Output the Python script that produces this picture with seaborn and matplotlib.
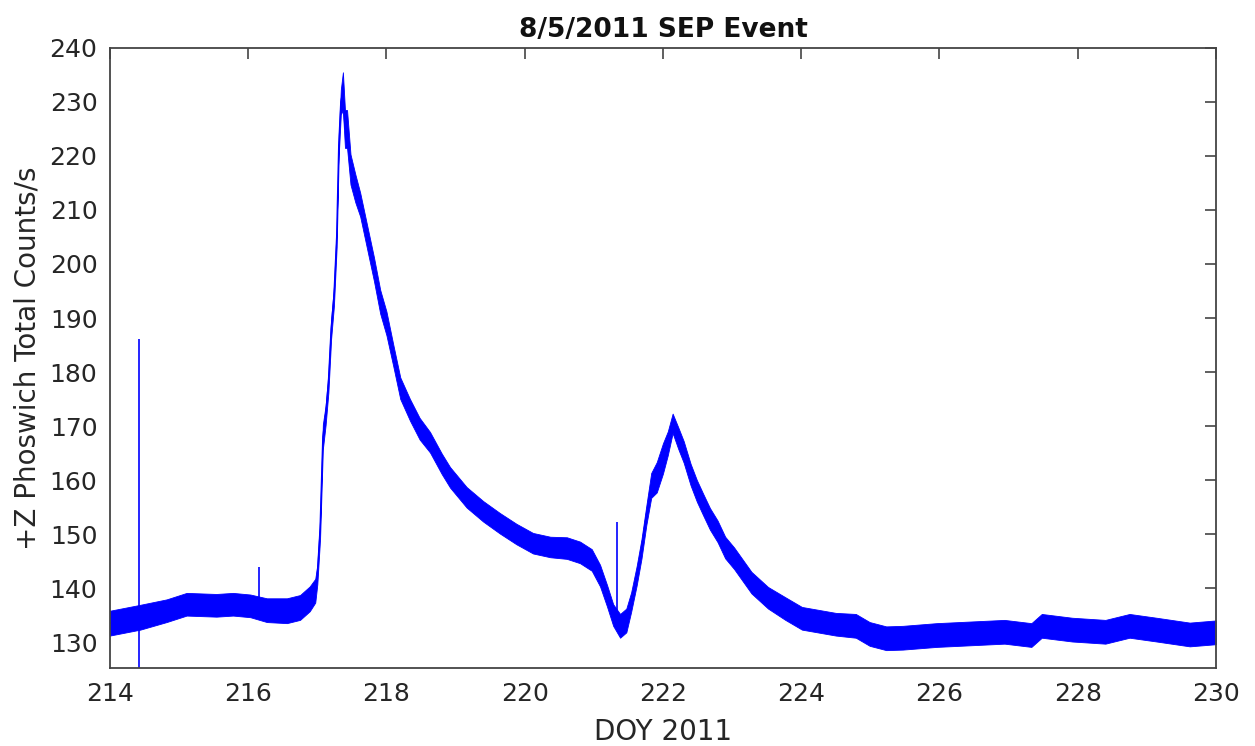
import numpy as np
import pandas as pd
import matplotlib
matplotlib.use("Agg")
import matplotlib.pyplot as plt
import seaborn as sns

# Day of year 2011 and smoothed count rate of the +Z phoswich detector
doy = [214.00, 214.20, 214.44, 214.82, 215.11, 215.54, 215.78, 216.03, 216.27,
       216.56, 216.75, 216.89, 216.97, 217.00, 217.04, 217.08, 217.12, 217.16,
       217.20, 217.24, 217.28, 217.31, 217.34, 217.37, 217.40, 217.43, 217.48,
       217.55, 217.62, 217.72, 217.82, 217.91, 218.00, 218.10, 218.20, 218.34,
       218.48, 218.63, 218.80, 218.92, 219.16, 219.40, 219.64, 219.88, 220.12,
       220.37, 220.61, 220.80, 220.97, 221.09, 221.19, 221.28, 221.38, 221.47,
       221.54, 221.62, 221.69, 221.76, 221.83, 221.91, 222.00, 222.07, 222.14,
       222.22, 222.30, 222.40, 222.49, 222.58, 222.68, 222.79, 222.90, 223.03,
       223.28, 223.52, 223.77, 224.01, 224.50, 224.79, 224.99, 225.23, 225.47,
       225.96, 226.45, 226.94, 227.33, 227.48, 227.92, 228.40, 228.75, 229.14,
       229.62, 230.00]
counts = [133.5, 134.0, 134.6, 135.8, 137.0, 136.8, 137.0, 136.7, 135.9,
          135.8, 136.4, 138.0, 139.5, 142.5, 151.0, 168.0, 172.0, 178.0,
          188.0, 194.0, 205.0, 222.0, 230.0, 232.0, 225.0, 225.0, 217.5,
          214.0, 211.0, 205.0, 199.0, 193.0, 189.0, 183.0, 177.0, 173.0,
          169.5, 167.0, 163.0, 160.5, 156.8, 154.2, 152.0, 150.0, 148.3,
          147.6, 147.4, 146.6, 145.2, 142.3, 138.6, 135.0, 133.0, 134.0,
          137.4, 142.3, 147.3, 153.5, 159.0, 160.5, 164.0, 166.8, 170.5,
          167.8, 165.2, 161.0, 158.0, 155.5, 152.8, 150.5, 147.5, 145.5,
          141.0, 138.2, 136.2, 134.4, 133.3, 133.0, 131.5, 130.7, 130.8,
          131.3, 131.6, 131.9, 131.3, 133.0, 132.3, 131.9, 133.0, 132.3,
          131.4, 131.8]
# half-width of the counting-noise band around the smoothed rate
spread = [2.3, 2.3, 2.3, 2.1, 2.1, 2.1, 2.1, 2.1, 2.2,
          2.3, 2.3, 2.3, 2.2, 1.8, 1.8, 2.3, 1.8, 1.8,
          1.8, 1.8, 1.8, 1.8, 2.3, 3.5, 3.5, 3.5, 2.8,
          2.6, 2.2, 2.2, 2.2, 2.2, 2.2, 2.0, 2.0, 2.0,
          2.0, 1.9, 1.9, 1.9, 1.9, 1.9, 1.9, 1.9, 1.9,
          1.9, 2.0, 2.0, 2.0, 2.0, 2.0, 2.0, 2.2, 2.2,
          1.8, 1.8, 1.8, 1.8, 2.3, 2.8, 2.8, 2.2, 1.8,
          2.0, 2.0, 2.0, 2.0, 2.0, 2.0, 2.0, 2.0, 2.0,
          2.0, 2.0, 2.1, 2.1, 2.1, 2.2, 2.2, 2.2, 2.2,
          2.2, 2.2, 2.2, 2.2, 2.2, 2.2, 2.2, 2.2, 2.2,
          2.2, 2.2]

# Isolated single-sample spikes (DOY, low, high)
spike_doy = [214.42, 216.16, 221.34]
spike_low = [125.2, 136.0, 133.5]
spike_high = [186.2, 143.9, 152.2]

xticks = [214, 216, 218, 220, 222, 224, 226, 228, 230]
yticks = [130, 140, 150, 160, 170, 180, 190, 200, 210, 220, 230, 240]

df = pd.DataFrame({"doy": doy, "counts": counts, "spread": spread})

sns.set_theme(style="white")
plt.rcParams["font.family"] = ["DejaVu Sans"]

fig = plt.figure(figsize=(12.55, 7.46), dpi=100)
ax = fig.add_axes([0.0876, 0.1046, 0.8813, 0.8311])

blue = "#0000ff"
ax.fill_between(df["doy"], df["counts"] - df["spread"], df["counts"] + df["spread"],
                color=blue, linewidth=0.6, edgecolor=blue)
sns.lineplot(data=df, x="doy", y="counts", ax=ax, color=blue, linewidth=1.0)
ax.vlines(spike_doy, spike_low, spike_high, color=blue, linewidth=1.2)

ax.set_xlim(214, 230)
ax.set_ylim(125.2, 240)
ax.set_xticks(xticks)
ax.set_yticks(yticks)

text_c = "#262626"
frame_c = "#444444"
ax.tick_params(axis="both", which="both", direction="in", length=8, width=1.2,
               color=frame_c, labelsize=18, labelcolor=text_c,
               top=True, right=True)
ax.tick_params(axis="x", pad=10)
ax.tick_params(axis="y", pad=9)
for s in ax.spines.values():
    s.set_visible(True)
    s.set_color(frame_c)
    s.set_linewidth(1.3)

ax.set_xlabel("DOY 2011", fontsize=20, color=text_c, labelpad=9)
ax.set_ylabel("+Z Phoswich Total Counts/s", fontsize=20, color=text_c, labelpad=6)
ax.set_title("8/5/2011 SEP Event", fontsize=19, fontweight="bold", color="#111111", pad=8)

fig.savefig("out.png", dpi=100)
